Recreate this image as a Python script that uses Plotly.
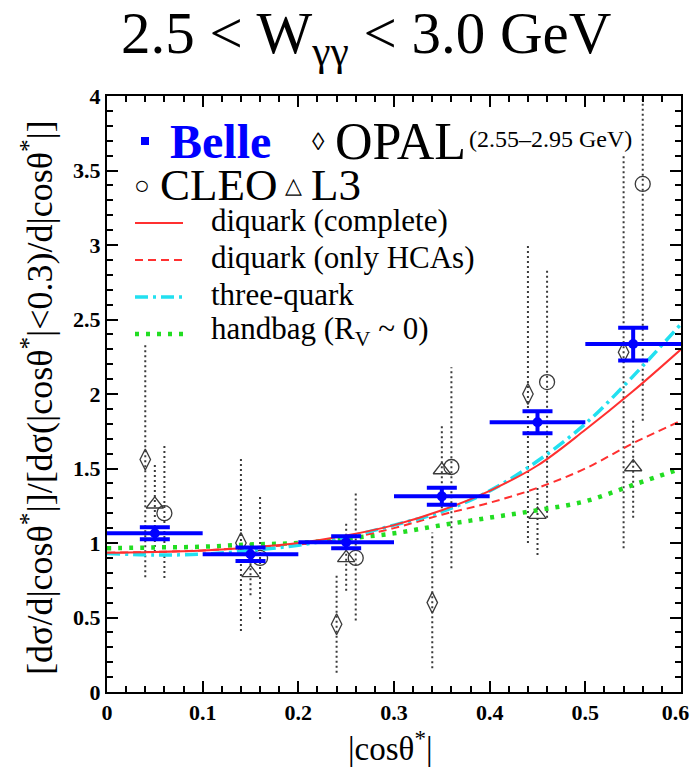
import plotly.graph_objects as go

# ---------------- data ----------------
belle_x = [0.05, 0.15, 0.25, 0.35, 0.45, 0.55]
belle_y = [1.065, 0.925, 1.005, 1.313, 1.81, 2.335]
belle_ey = [0.04, 0.045, 0.04, 0.057, 0.074, 0.11]
belle_ex = [0.05, 0.05, 0.05, 0.05, 0.05, 0.05]

opal_x = [0.04, 0.14, 0.24, 0.34, 0.44, 0.54]
opal_y = [1.56, 1.00, 0.455, 0.60, 2.00, 2.28]
opal_hi = [2.34, 1.575, 0.80, 1.07, 3.00, 3.60]
opal_lo = [0.77, 0.41, 0.13, 0.16, 1.00, 0.965]

l3_x = [0.05, 0.15, 0.25, 0.35, 0.45, 0.55]
l3_y = [1.26, 0.80, 0.90, 1.49, 1.19, 1.51]
l3_hi = [1.54, 1.00, 1.14, 1.80, 1.37, 1.84]
l3_lo = [0.94, 0.65, 0.68, 1.20, 0.92, 1.17]

cleo_x = [0.06, 0.16, 0.26, 0.36, 0.46, 0.56]
cleo_y = [1.20, 0.90, 0.90, 1.51, 2.08, 3.41]
cleo_hi = [1.655, 1.31, 1.34, 2.18, 2.83, 4.10]
cleo_lo = [0.765, 0.49, 0.48, 0.83, 1.17, 1.82]

curve_x = [0.0, 0.05, 0.1, 0.15, 0.2, 0.25, 0.3, 0.35, 0.4, 0.45, 0.5, 0.55, 0.6]
diq_complete = [0.935, 0.94, 0.95, 0.97, 1.00, 1.05, 1.12, 1.22, 1.35, 1.52, 1.76, 2.02, 2.30]
diq_hca = [0.935, 0.94, 0.95, 0.97, 0.99, 1.03, 1.10, 1.19, 1.27, 1.37, 1.50, 1.67, 1.82]
three_quark = [0.93, 0.92, 0.925, 0.95, 0.985, 1.04, 1.12, 1.21, 1.35, 1.55, 1.80, 2.12, 2.47]
handbag = [0.965, 0.97, 0.975, 0.99, 1.00, 1.03, 1.065, 1.12, 1.17, 1.22, 1.28, 1.39, 1.50]

x_ticks = [0, 0.1, 0.2, 0.3, 0.4, 0.5, 0.6]
x_ticklabels = ["0", "0.1", "0.2", "0.3", "0.4", "0.5", "0.6&nbsp;&nbsp;"]
y_ticks = [0, 0.5, 1, 1.5, 2, 2.5, 3, 3.5, 4]
y_ticklabels = ["0", "0.5", "1", "1.5", "2", "2.5", "3", "3.5", "4"]

FONT = "Liberation Serif"
GRAY = "#3a3a3a"

fig = go.Figure()


def dotted_bars(xs, lo, hi):
    bx, by = [], []
    for x, a, b in zip(xs, lo, hi):
        bx += [x, x, None]
        by += [a, b, None]
    return go.Scatter(x=bx, y=by, mode="lines", showlegend=False,
                      line=dict(color=GRAY, width=2, dash="2px,3px"),
                      hoverinfo="skip")


for xs, lo, hi in [(opal_x, opal_lo, opal_hi), (l3_x, l3_lo, l3_hi), (cleo_x, cleo_lo, cleo_hi)]:
    fig.add_trace(dotted_bars(xs, lo, hi))

fig.add_trace(go.Scatter(x=opal_x, y=opal_y, mode="markers", name="OPAL",
                         marker=dict(symbol="diamond-tall-open", size=15, color=GRAY, line=dict(width=1.3))))
fig.add_trace(go.Scatter(x=l3_x, y=l3_y, mode="markers", name="L3",
                         marker=dict(symbol="triangle-up-open", size=15, color=GRAY, line=dict(width=1.3))))
fig.add_trace(go.Scatter(x=cleo_x, y=cleo_y, mode="markers", name="CLEO",
                         marker=dict(symbol="circle-open", size=15, color=GRAY, line=dict(width=1.3))))

fig.add_trace(go.Scatter(x=curve_x, y=handbag, mode="lines", line_shape="spline",
                         line=dict(color="#22dd22", width=4.5, dash="4px,7px")))
fig.add_trace(go.Scatter(x=curve_x, y=diq_hca, mode="lines", line_shape="spline",
                         line=dict(color="#ff3030", width=2, dash="8px,5px")))
fig.add_trace(go.Scatter(x=curve_x, y=three_quark, mode="lines", line_shape="spline",
                         line=dict(color="#22e0f0", width=3.5, dash="13px,5px,3px,5px")))
fig.add_trace(go.Scatter(x=curve_x, y=diq_complete, mode="lines", line_shape="spline",
                         line=dict(color="#ff3030", width=2)))

fig.add_trace(go.Scatter(x=belle_x, y=belle_y, mode="markers", name="Belle",
                         marker=dict(symbol="circle", size=10, color="#0000ff"),
                         error_x=dict(type="data", array=belle_ex, color="#0000ff", thickness=4, width=0),
                         error_y=dict(type="data", array=belle_ey, color="#0000ff", thickness=4, width=15)))

# empty trace so the mirrored (top/right) tick axes exist
fig.add_trace(go.Scatter(x=[], y=[], xaxis="x2", yaxis="y2", showlegend=False, hoverinfo="skip"))

# ---------------- layout helpers (pixel -> paper) ----------------
X0, X1, Y0, Y1 = 107, 681, 96, 692


def px(x):
    return (x - X0) / (X1 - X0)


def py(y):
    return (Y1 - y) / (Y1 - Y0)


ann = []


def text(x, y, s, size, color="black", xanchor="left", bold=False, angle=0):
    ann.append(dict(x=px(x), y=py(y), xref="paper", yref="paper", text=s, showarrow=False,
                    xanchor=xanchor, yanchor="middle", textangle=angle,
                    font=dict(family=FONT, size=size, color=color, weight="bold" if bold else "normal")))


# title
text(366, 37, "2.5 &lt; W<sub>γγ</sub> &lt; 3.0 GeV", 59, xanchor="center")

# legend block
text(168, 141, "Belle", 48, color="#0000ff", bold=True)
text(318, 141, "◊", 25, xanchor="center")
text(333, 141, "OPAL", 52)
text(467, 139, "(2.55–2.95 GeV)", 24)
text(142, 186, "○", 26, xanchor="center")
text(158, 185, "CLEO", 45)
text(293, 186, "△", 22, xanchor="center")
text(309, 185, "L3", 45)
text(209, 220, "diquark (complete)", 31)
text(209, 257, "diquark (only HCAs)", 31)
text(209, 294, "three-quark", 31)
text(209, 331, "handbag (R<sub>V</sub> ~ 0)", 31)

# axis titles
text(37, 398, "[dσ/d|cosθ<sup>*</sup>|]/[dσ(|cosθ<sup>*</sup>|&lt;0.3)/d|cosθ<sup>*</sup>|]", 36,
     xanchor="center", angle=-90)
text(390, 746, "|cosθ<sup>*</sup>|", 33, xanchor="center")

shapes = [
    dict(type="rect", xref="paper", yref="paper", x0=px(141), x1=px(149), y0=py(145), y1=py(137),
         fillcolor="#0000ff", line=dict(width=0)),
    dict(type="line", xref="paper", yref="paper", x0=px(135), x1=px(183), y0=py(223), y1=py(223),
         line=dict(color="#ff3030", width=2)),
    dict(type="line", xref="paper", yref="paper", x0=px(135), x1=px(183), y0=py(260), y1=py(260),
         line=dict(color="#ff3030", width=2, dash="8px,5px")),
    dict(type="line", xref="paper", yref="paper", x0=px(135), x1=px(183), y0=py(297), y1=py(297),
         line=dict(color="#22e0f0", width=3.5, dash="13px,5px,3px,5px")),
    dict(type="line", xref="paper", yref="paper", x0=px(135), x1=px(183), y0=py(334), y1=py(334),
         line=dict(color="#22dd22", width=4.5, dash="4px,7px")),
]

tick_common = dict(ticks="inside", ticklen=11, tickwidth=1.5, tickcolor="black", automargin=False)
axis_common = dict(showgrid=False, zeroline=False, showline=True, linecolor="black", linewidth=2,
                   mirror=True, ticklabeloverflow="allow", **tick_common,
                   tickfont=dict(family=FONT, size=22, color="black", weight="bold"))
minor_x = dict(tickmode="linear", tick0=0, dtick=0.02, ticks="inside", ticklen=6, tickwidth=1.5,
               tickcolor="black")
minor_y = dict(tickmode="linear", tick0=0, dtick=0.1, ticks="inside", ticklen=6, tickwidth=1.5,
               tickcolor="black")

fig.update_layout(
    width=691, height=773,
    margin=dict(l=X0, r=691 - X1, t=Y0, b=773 - Y1, autoexpand=False),
    paper_bgcolor="white", plot_bgcolor="white",
    showlegend=False,
    xaxis=dict(range=[0, 0.6], tickmode="array", tickvals=x_ticks, ticktext=x_ticklabels,
               minor=minor_x, **axis_common),
    yaxis=dict(range=[0, 4], tickmode="array", tickvals=y_ticks, ticktext=y_ticklabels,
               minor=minor_y, **axis_common),
    xaxis2=dict(range=[0, 0.6], overlaying="x", side="top", anchor="y2", tickmode="array",
                tickvals=x_ticks, showticklabels=False, showgrid=False, zeroline=False,
                showline=False, minor=minor_x, **tick_common),
    yaxis2=dict(range=[0, 4], overlaying="y", side="right", anchor="x2", tickmode="array",
                tickvals=y_ticks, showticklabels=False, showgrid=False, zeroline=False,
                showline=False, minor=minor_y, **tick_common),
    annotations=ann,
    shapes=shapes,
)

fig.write_html("out.html")
